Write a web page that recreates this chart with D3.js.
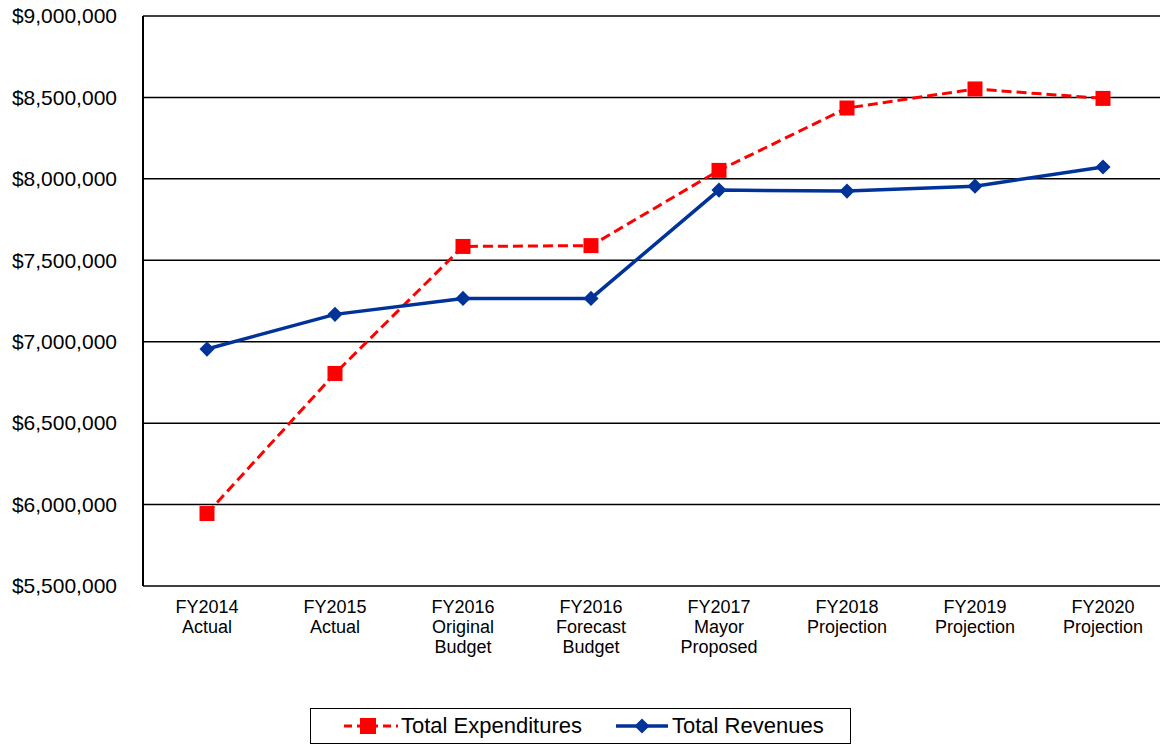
<!DOCTYPE html>
<html>
<head>
<meta charset="utf-8">
<script src="https://cdn.jsdelivr.net/npm/d3@7"></script>
<style>
body { margin: 0; background: #fff; }
text { font-family: "Liberation Sans", Arial, sans-serif; fill: #000; }
</style>
</head>
<body>
<script>
var w = 1160;
var h = 745;

var categories = [
    ["FY2014", "Actual"],
    ["FY2015", "Actual"],
    ["FY2016", "Original", "Budget"],
    ["FY2016", "Forecast", "Budget"],
    ["FY2017", "Mayor", "Proposed"],
    ["FY2018", "Projection"],
    ["FY2019", "Projection"],
    ["FY2020", "Projection"]
];
var expenditures = [5945000, 6805000, 7585000, 7590000, 8052000, 8435000, 8552000, 8494000];
var revenues = [6955000, 7168000, 7266000, 7266000, 7931000, 7925000, 7955000, 8073000];
var yTicks = [5500000, 6000000, 6500000, 7000000, 7500000, 8000000, 8500000, 9000000];

var plotLeft = 143, plotTop = 16, plotW = 1024, plotBottom = 586;

var svg = d3.select("body").append("svg").attr("width", w).attr("height", h);

var x = d3.scaleBand().domain(d3.range(categories.length)).range([plotLeft, plotLeft + plotW]);
var y = d3.scaleLinear().domain([5500000, 9000000]).range([plotBottom, plotTop]);
var fmt = function (v) { return "$" + d3.format(",")(v); };
var cx = function (i) { return x(i) + x.bandwidth() / 2; };

// gridlines
svg.append("g").selectAll("line")
    .data(yTicks)
    .enter()
    .append("line")
    .attr("x1", plotLeft).attr("x2", plotLeft + plotW)
    .attr("y1", function (d) { return y(d); })
    .attr("y2", function (d) { return y(d); })
    .style("stroke", "#000")
    .style("stroke-width", 1.5);

// left border
svg.append("line")
    .attr("x1", plotLeft).attr("x2", plotLeft)
    .attr("y1", plotTop).attr("y2", plotBottom)
    .style("stroke", "#000").style("stroke-width", 2);

// y axis labels
var yAxis = d3.axisLeft(y).tickValues(yTicks).tickFormat(fmt).tickSize(0).tickPadding(26);
var yg = svg.append("g").attr("transform", "translate(" + plotLeft + ",0)").call(yAxis);
yg.select(".domain").remove();
yg.selectAll("text").style("font-size", "21px").style("font-family", "Liberation Sans, Arial, sans-serif");

// x labels
var xg = svg.append("g");
categories.forEach(function (c, i) {
    var t = xg.append("text")
        .attr("x", cx(i))
        .attr("y", 613)
        .attr("text-anchor", "middle")
        .style("font-size", "18px");
    c.forEach(function (s, j) {
        t.append("tspan")
            .attr("x", cx(i))
            .attr("dy", j === 0 ? 0 : 20)
            .text(s);
    });
});

var line = d3.line()
    .x(function (d, i) { return cx(i); })
    .y(function (d) { return y(d); });

// expenditures
svg.append("path")
    .datum(expenditures)
    .attr("d", line)
    .style("fill", "none")
    .style("stroke", "#ff0000")
    .style("stroke-width", 3)
    .style("stroke-dasharray", "10,5");

svg.selectAll("rect.exp")
    .data(expenditures)
    .enter()
    .append("rect")
    .attr("class", "exp")
    .attr("x", function (d, i) { return cx(i) - 7.5; })
    .attr("y", function (d) { return y(d) - 7.5; })
    .attr("width", 15)
    .attr("height", 15)
    .style("fill", "#ff0000");

// revenues
svg.append("path")
    .datum(revenues)
    .attr("d", line)
    .style("fill", "none")
    .style("stroke", "#003399")
    .style("stroke-width", 3.5);

var diamond = d3.symbol().type(d3.symbolSquare).size(115);
svg.selectAll("path.rev")
    .data(revenues)
    .enter()
    .append("path")
    .attr("class", "rev")
    .attr("d", diamond)
    .attr("transform", function (d, i) {
        return "translate(" + cx(i) + "," + y(d) + ") rotate(45)";
    })
    .style("fill", "#003399");

// legend
var lg = svg.append("g");
lg.append("rect")
    .attr("x", 310.5).attr("y", 708.5)
    .attr("width", 540).attr("height", 35)
    .style("fill", "#fff").style("stroke", "#000").style("stroke-width", 1);

lg.append("line")
    .attr("x1", 344).attr("x2", 398).attr("y1", 726).attr("y2", 726)
    .style("stroke", "#ff0000").style("stroke-width", 3).style("stroke-dasharray", "8,5");
lg.append("rect")
    .attr("x", 360).attr("y", 718).attr("width", 16).attr("height", 16)
    .style("fill", "#ff0000");
lg.append("text").attr("x", 401).attr("y", 733).style("font-size", "22px").text("Total Expenditures");

lg.append("line")
    .attr("x1", 616).attr("x2", 668).attr("y1", 726).attr("y2", 726)
    .style("stroke", "#003399").style("stroke-width", 3.5);
lg.append("path")
    .attr("d", diamond)
    .attr("transform", "translate(642,726) rotate(45)")
    .style("fill", "#003399");
lg.append("text").attr("x", 672).attr("y", 733).style("font-size", "22px").text("Total Revenues");
</script>
</body>
</html>
